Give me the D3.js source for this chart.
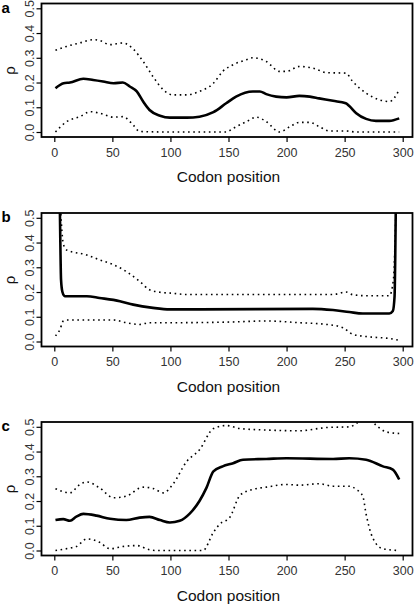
<!DOCTYPE html>
<html><head><meta charset="utf-8">
<script src="https://cdn.jsdelivr.net/npm/d3@7"></script>
<style>
html,body{margin:0;padding:0;background:#fff;}
svg{display:block;font-family:"Liberation Sans",Arial,sans-serif;}
</style></head>
<body>
<svg id="chart" width="415" height="604"></svg>
<script>
// ---- data ----
const xTicks = [0, 50, 100, 150, 200, 250, 300];
const yTicks = [0, 0.1, 0.2, 0.3, 0.4, 0.5];
const yTickLabels = ["0.0", "0.1", "0.2", "0.3", "0.4", "0.5"];
const panelLabels = ["a", "b", "c"];
const xLabel = "Codon position";
const yLabel = "ρ";

// panel a
const aPos = [1,8,13.5,25,33.5,42,51,59,65,71,76.5,82,91,99.5,114,125,137,148,156.5,171,177,182.5,191,200,211,220,228,240,251,254,260,268.5,277,288.5,297];
const aMean = [0.177,0.197,0.2,0.215,0.21,0.204,0.197,0.2,0.184,0.164,0.123,0.089,0.066,0.058,0.058,0.062,0.08,0.116,0.143,0.164,0.164,0.153,0.143,0.14,0.146,0.143,0.136,0.126,0.116,0.105,0.076,0.053,0.045,0.045,0.055];
const aUpPos = [1,10.6,22,33.5,39,48,59,68,76.5,85,94,102,114,125,137,145,154,165.5,171,182.5,194,200,211,223,234.5,251,257,268.5,280,288.5,297];
const aUp = [0.33,0.346,0.36,0.373,0.37,0.353,0.36,0.335,0.285,0.224,0.17,0.15,0.15,0.164,0.197,0.245,0.272,0.292,0.3,0.285,0.245,0.245,0.265,0.258,0.24,0.238,0.204,0.157,0.13,0.123,0.17];
const aLoPos = [1,10.6,22,31,39,51,59,68,73.5,100,148,154,165.5,174,182.5,194,203,211,220,228,237,251,260,297];
const aLo = [0,0.042,0.062,0.082,0.076,0.06,0.062,0.028,0.002,0,0,0.015,0.042,0.06,0.042,0,0.022,0.039,0.039,0.022,0.004,0.004,0,0];

// panel b
const bPos = [4.6,5.2,5.8,7,9,28,39,56.5,68,85,99.5,125,222.6,240,254,265.6,288.5,291.5,293,293.6,294.2];
const bMean = [0.6,0.4,0.25,0.2,0.183,0.183,0.176,0.163,0.149,0.136,0.13,0.13,0.132,0.127,0.119,0.113,0.113,0.123,0.183,0.35,0.6];
const bUpPos = [4.8,6.5,7.7,10.6,28,39,51,62,73.5,82,91,102,114,240,251,257,268.5,288.5,292,294.5];
const bUp = [0.6,0.45,0.396,0.37,0.35,0.33,0.31,0.283,0.243,0.209,0.199,0.195,0.19,0.19,0.2,0.189,0.185,0.185,0.25,0.6];
const bLoPos = [1,5,7.7,10.6,28,51,62,73.5,82,102,154,182.5,211,234.5,248.5,257,268.5,288.5,297];
const bLo = [0.023,0.05,0.083,0.087,0.087,0.087,0.076,0.069,0.076,0.076,0.079,0.083,0.076,0.069,0.056,0.029,0.02,0.012,0.005];

// panel c
const cPos = [1,7.7,13.5,19,25,36.4,48,62,73.5,82,91,99.5,108,116.6,125,131,137,145,154,162.5,182.5,200,240,254,268.5,283,291.5,297];
const cMean = [0.123,0.127,0.12,0.137,0.148,0.141,0.128,0.123,0.133,0.136,0.123,0.113,0.12,0.149,0.2,0.253,0.32,0.34,0.353,0.367,0.37,0.373,0.37,0.373,0.367,0.34,0.327,0.287];
const cUpPos = [1,13.5,22,28,39,51,62,76.5,85,94,102,114,125,137,148,160,182.5,211,234.5,254,260,268,277,285.5,297];
const cUp = [0.25,0.233,0.267,0.277,0.253,0.213,0.22,0.256,0.251,0.233,0.267,0.36,0.407,0.493,0.505,0.493,0.487,0.484,0.497,0.5,0.513,0.55,0.507,0.48,0.473];
const cLoPos = [1,13.5,19,28,39,48,59,71,82,88,128,137,142.5,151,160,171,182.5,200,211,228,240,254,260,265.6,268.5,274,283,297];
const cLo = [0,0.01,0.016,0.047,0.033,0.007,0.016,0.02,0.003,0,0,0.073,0.107,0.133,0.224,0.247,0.256,0.267,0.264,0.27,0.26,0.26,0.247,0.22,0.147,0.053,0.007,0];

const panels = [
  {label: panelLabels[0], top: 3.5, mean: [aPos, aMean], up: [aUpPos, aUp], lo: [aLoPos, aLo]},
  {label: panelLabels[1], top: 213, mean: [bPos, bMean], up: [bUpPos, bUp], lo: [bLoPos, bLo]},
  {label: panelLabels[2], top: 422, mean: [cPos, cMean], up: [cUpPos, cUp], lo: [cLoPos, cLo]}
];

// ---- drawing ----
const svg = d3.select("#chart");
const boxL = 41.5, boxR = 412.5, boxH = 133.5;

const x = d3.scaleLinear().domain([0, 300]).range([54.3, 402.7]);

panels.forEach((p, i) => {
  const t = p.top;
  const y = d3.scaleLinear().domain([0, 0.5]).range([t + 128.5, t + 4.8]);
  const g = svg.append("g");

  const clipId = "clip" + i;
  svg.append("clipPath").attr("id", clipId)
    .append("rect").attr("x", boxL).attr("y", t).attr("width", boxR - boxL).attr("height", boxH);

  const line = d3.line().x(d => x(d[0])).y(d => y(d[1])).curve(d3.curveMonotoneX);
  const zip = (arr) => arr[0].map((v, k) => [v, arr[1][k]]);

  const lines = g.append("g").attr("clip-path", `url(#${clipId})`);
  [p.up, p.lo].forEach(s => {
    lines.append("path").datum(zip(s)).attr("d", line)
      .attr("fill", "none").attr("stroke", "#000").attr("stroke-width", 1.6)
      .attr("stroke-dasharray", "1.6,3.6").attr("stroke-linecap", "butt");
  });
  lines.append("path").datum(zip(p.mean)).attr("d", line)
    .attr("fill", "none").attr("stroke", "#000").attr("stroke-width", 2.6)
    .attr("stroke-linejoin", "round");

  // box
  g.append("rect").attr("x", boxL).attr("y", t).attr("width", boxR - boxL).attr("height", boxH)
    .attr("fill", "none").attr("stroke", "#000").attr("stroke-width", 1.8);

  // x axis
  const xAxis = d3.axisBottom(x).tickValues(xTicks).tickSize(5).tickPadding(6).tickSizeOuter(0);
  const xa = g.append("g").attr("transform", `translate(0,${t + boxH})`).call(xAxis);
  xa.select(".domain").remove();
  xa.selectAll("line").attr("stroke", "#000").attr("stroke-width", 1.2);
  xa.selectAll("text").attr("font-size", 12.5).attr("fill", "#333")
    .attr("font-family", "Liberation Sans, Arial, sans-serif");

  // y axis
  const yAxis = d3.axisLeft(y).tickValues(yTicks).tickFormat((d, k) => yTickLabels[k]).tickSize(5).tickSizeOuter(0);
  const ya = g.append("g").attr("transform", `translate(${boxL},0)`).call(yAxis);
  ya.select(".domain").remove();
  ya.selectAll("line").attr("stroke", "#000").attr("stroke-width", 1.2);
  ya.selectAll("text")
    .attr("font-size", 12.5).attr("fill", "#333")
    .attr("font-family", "Liberation Sans, Arial, sans-serif")
    .attr("text-anchor", "middle").attr("dy", null).attr("x", null)
    .attr("transform", "translate(-8,0) rotate(-90)");

  // axis labels
  g.append("text").attr("x", (x(0) + x(300)) / 2).attr("y", t + boxH + 45)
    .attr("text-anchor", "middle").attr("font-size", 15.5).attr("fill", "#111")
    .text(xLabel);
  g.append("text").attr("transform", `translate(15,${t + 67}) rotate(-90)`)
    .attr("text-anchor", "middle").attr("font-size", 15).attr("fill", "#111")
    .text(yLabel);

  // panel label
  g.append("text").attr("x", 1.5).attr("y", t + 9).attr("font-size", 15)
    .attr("font-weight", "bold").attr("fill", "#000").text(p.label);
});
</script>
</body></html>
